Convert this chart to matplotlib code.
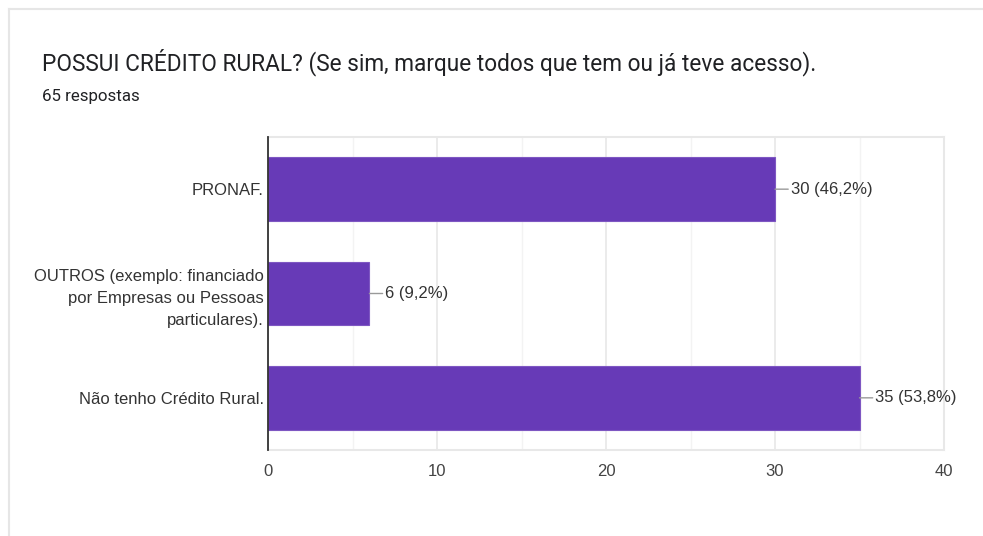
import matplotlib
matplotlib.use("Agg")
import matplotlib.pyplot as plt
from matplotlib.lines import Line2D

plt.rcParams['font.family'] = ['Liberation Sans', 'DejaVu Sans']

categories = ["PRONAF.",
              "OUTROS (exemplo: financiado\npor Empresas ou Pessoas\nparticulares).",
              "Não tenho Crédito Rural."]
values = [30, 6, 35]
value_labels = ["30 (46,2%)", "6 (9,2%)", "35 (53,8%)"]
xticks = [0, 10, 20, 30, 40]
title = "POSSUI CRÉDITO RURAL? (Se sim, marque todos que tem ou já teve acesso)."
subtitle = "65 respostas"

fig = plt.figure(figsize=(9.83, 5.36), dpi=100)
fig.patch.set_facecolor('white')

# card border
fig.add_artist(Line2D([9/983, 1.0], [1-9/536, 1-9/536], transform=fig.transFigure,
                      color='#e6e6e6', lw=1.5))
fig.add_artist(Line2D([9/983, 9/983], [0, 1-9/536], transform=fig.transFigure,
                      color='#e6e6e6', lw=1.5))

fig.text(42/983, 1-62/536, title, fontsize=16.3, color='#202124', va='center', ha='left',
         family=['Roboto', 'DejaVu Sans'])
fig.text(42/983, 1-96/536, subtitle, fontsize=12.2, color='#202124', va='center', ha='left',
         family=['Roboto', 'DejaVu Sans'])

ax = fig.add_axes([268/983, 1-450/536, (944-268)/983, (450-137)/536])
y = list(range(len(categories)))
ax.barh(y, values, height=0.61, color='#673AB7', edgecolor='#7e57c2', linewidth=0.8, zorder=3)
ax.set_ylim(len(categories)-0.5, -0.5)
ax.set_xlim(0, 40)
ax.set_yticks(y)
ax.set_yticklabels(categories, fontsize=12, color='#333333', linespacing=1.6)
ax.set_xticks(xticks)
ax.set_xticklabels([str(t) for t in xticks], fontsize=12, color='#444444')
ax.set_xticks([5, 15, 25, 35], minor=True)
ax.tick_params(axis='both', which='both', length=0)
ax.tick_params(axis='y', pad=3)
ax.tick_params(axis='x', pad=10)
ax.grid(axis='x', which='major', color='#e8e8e8', lw=1.2, zorder=0)
ax.grid(axis='x', which='minor', color='#f3f3f3', lw=1.0, zorder=0)
for s in ['top', 'right', 'bottom']:
    ax.spines[s].set_color('#e8e8e8')
    ax.spines[s].set_linewidth(1.5)
ax.spines['left'].set_color('#333333')
ax.spines['left'].set_linewidth(1.3)
ax.spines['left'].set_zorder(4)

for yi, v, lab in zip(y, values, value_labels):
    ax.annotate(lab, xy=(v, yi), xytext=(11.5, 0), textcoords='offset points',
                ha='left', va='center', fontsize=12, color='#333333',
                arrowprops=dict(arrowstyle='-', color='#999999', lw=1.0,
                                shrinkA=0, shrinkB=0))

fig.savefig('out.png', dpi=100, facecolor='white')
